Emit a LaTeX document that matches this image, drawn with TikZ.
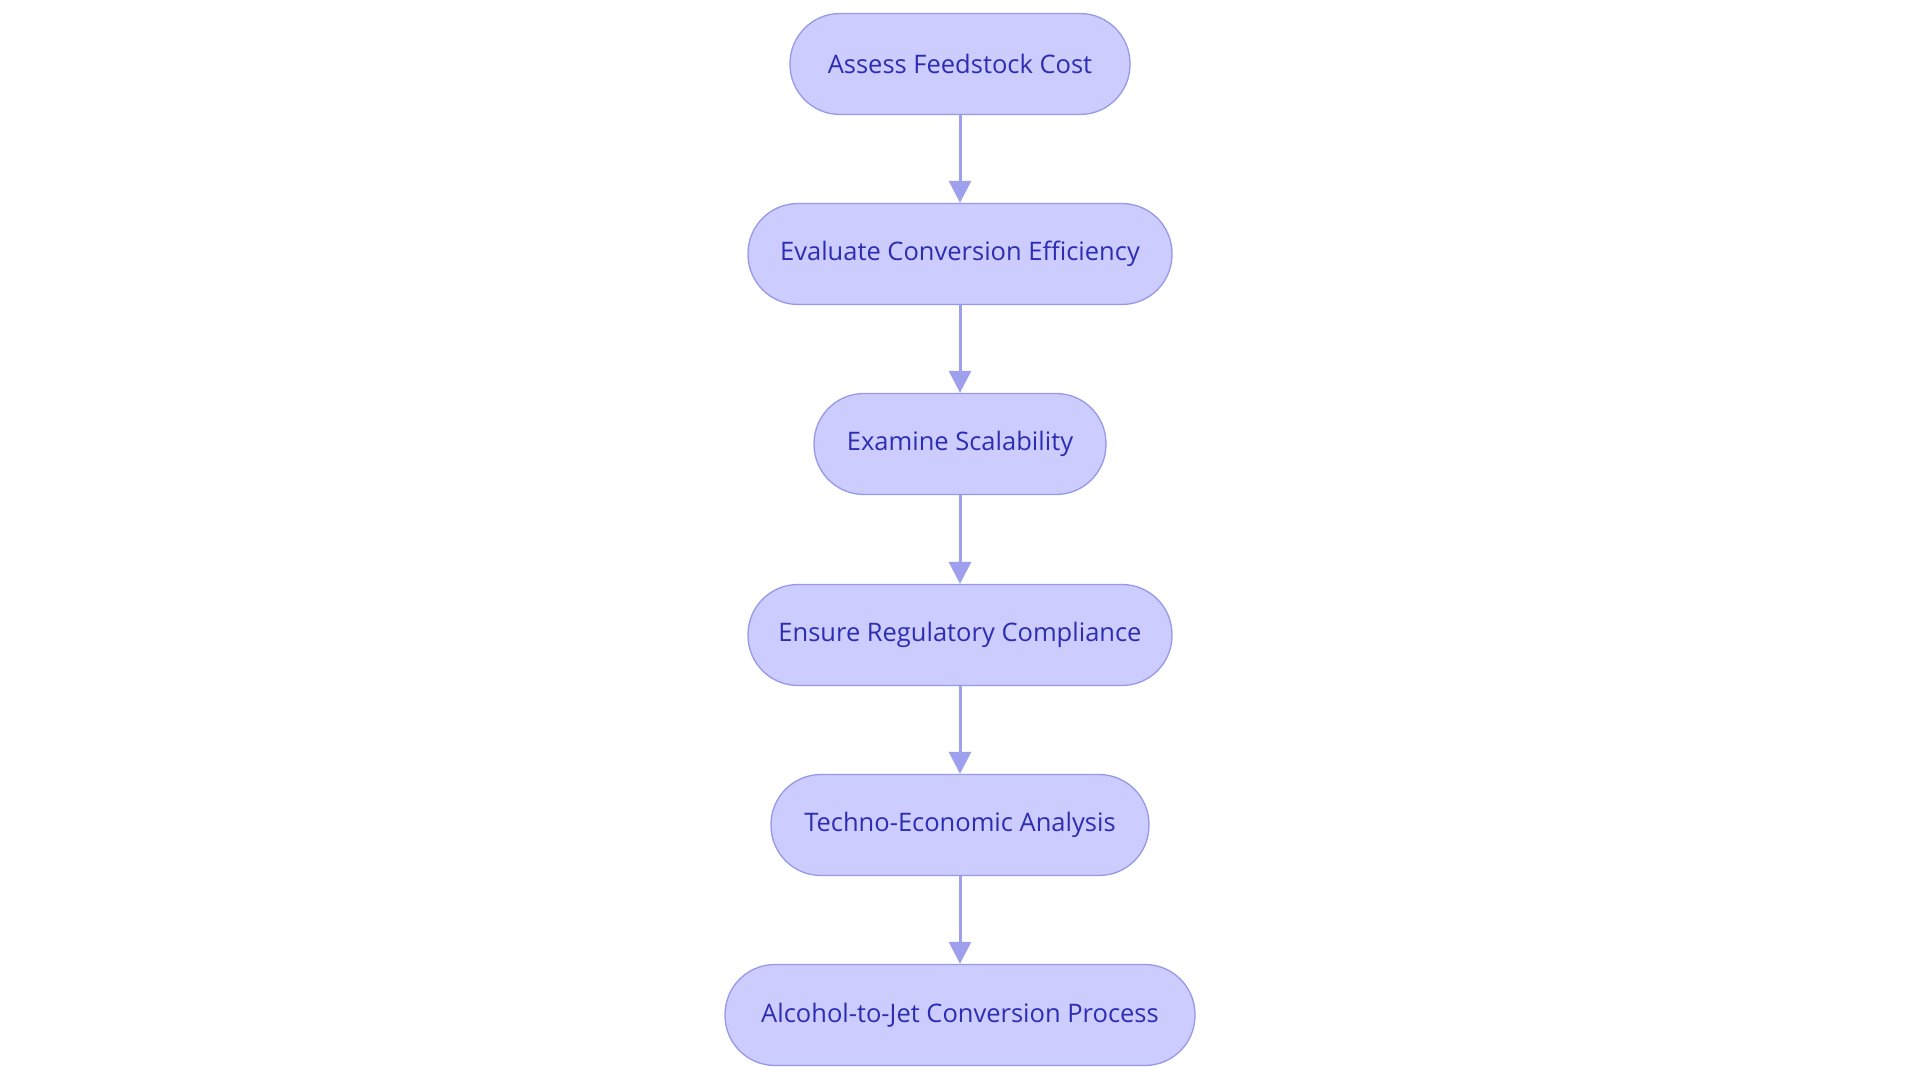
\documentclass[tikz,border=0pt]{standalone}
\usepackage{fontspec}
\setmainfont{Open Sans}
\usetikzlibrary{arrows.meta}
\definecolor{nodefill}{RGB}{204,204,255}
\definecolor{nodeline}{RGB}{150,152,232}
\definecolor{edgecol}{RGB}{158,160,238}
\definecolor{textcol}{RGB}{45,45,178}
\tikzset{
  stadium/.style={draw=nodeline, line width=1.3pt, fill=nodefill, rounded corners=50pt,
    minimum height=101pt, inner sep=0pt, text=textcol, font=\fontsize{25.5}{30}\selectfont},
  flow/.style={draw=edgecol, line width=3pt, -{Triangle[length=22pt,width=22pt]}}
}
\begin{document}
\begin{tikzpicture}[x=1pt,y=1pt]
\useasboundingbox (0,0) rectangle (1920,1080);
\node[stadium, minimum width=340pt] (n1) at (960,1016) {Assess Feedstock Cost};
\node[stadium, minimum width=424pt] (n2) at (960,826) {Evaluate Conversion Efficiency};
\node[stadium, minimum width=292pt] (n3) at (960,636) {Examine Scalability};
\node[stadium, minimum width=424pt] (n4) at (960,445) {Ensure Regulatory Compliance};
\node[stadium, minimum width=378pt] (n5) at (960,255) {Techno-Economic Analysis};
\node[stadium, minimum width=470pt] (n6) at (960,65) {Alcohol-to-Jet Conversion Process};
\draw[flow] (n1) -- (n2);
\draw[flow] (n2) -- (n3);
\draw[flow] (n3) -- (n4);
\draw[flow] (n4) -- (n5);
\draw[flow] (n5) -- (n6);
\end{tikzpicture}
\end{document}
